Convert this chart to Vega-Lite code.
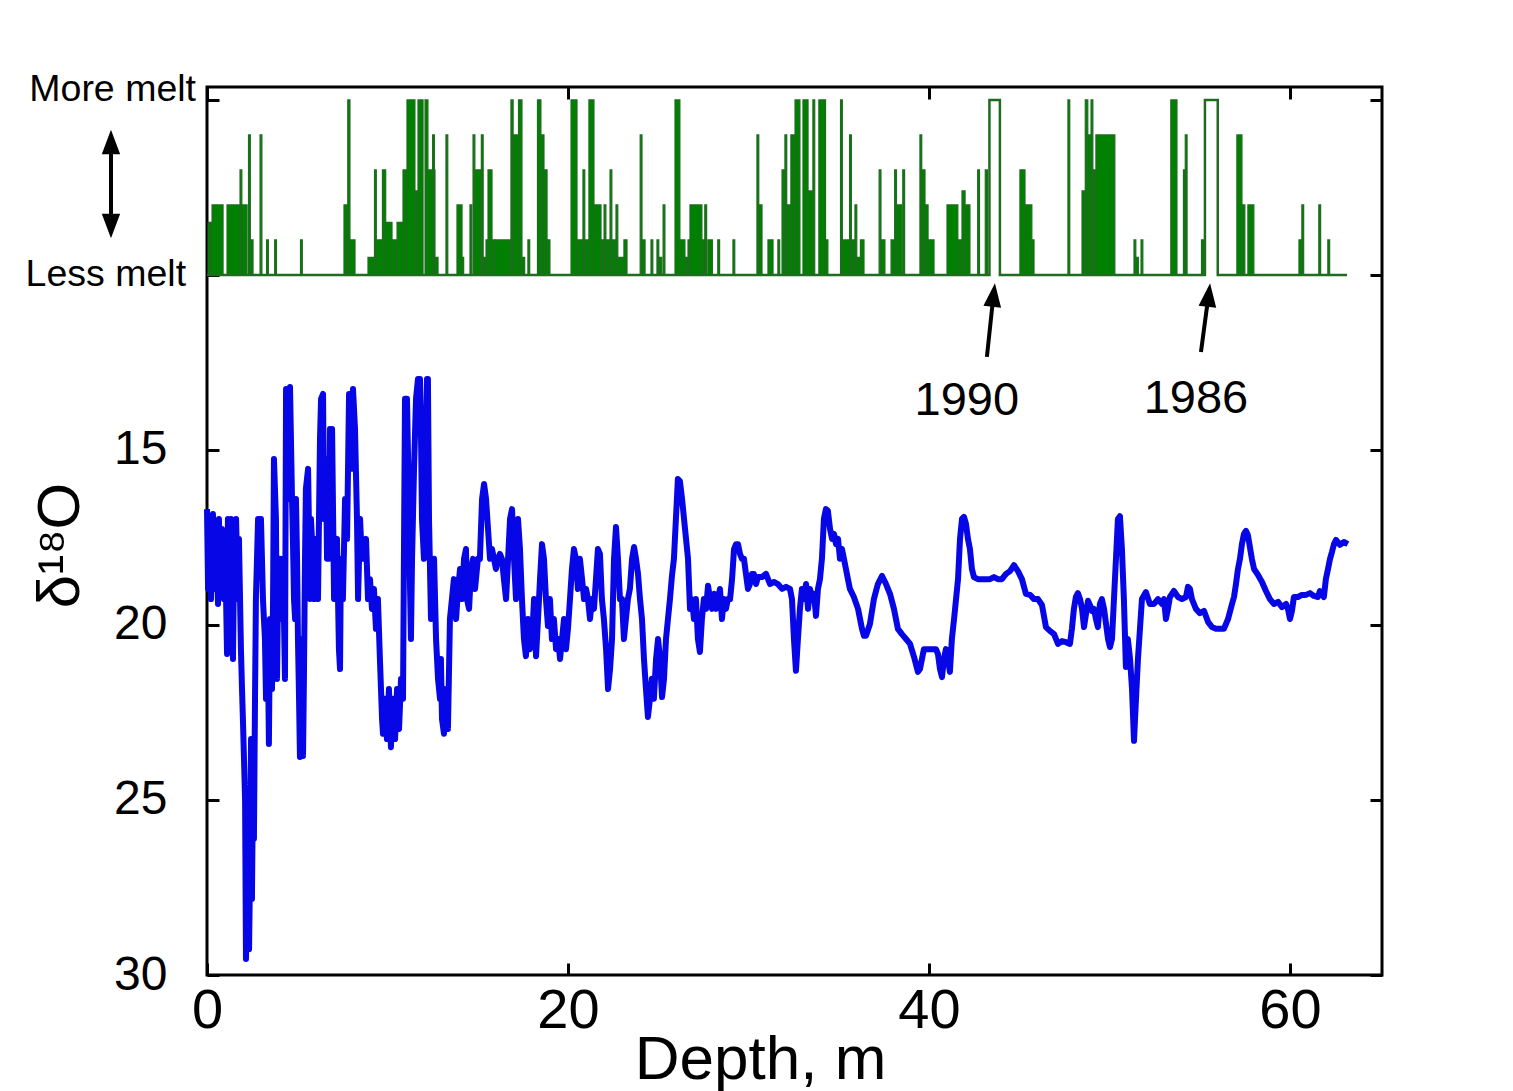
{
  "$schema": "https://vega.github.io/schema/vega-lite/v6.json",
  "width": 1175,
  "height": 888,
  "autosize": {"type": "none"},
  "padding": {"left": 207, "top": 87, "right": 131, "bottom": 116},
  "background": "white",
  "config": {"view": {"stroke": "black", "strokeWidth": 3}, "font": "Liberation Sans"},
  "resolve": {"axis": {"x": "independent", "y": "independent"}},
  "datasets": {
    "melt": [
      {"d0":0.06,"d1":0.28,"m":8.5},{"d0":0.28,"d1":0.89,"m":8},{"d0":1.11,"d1":2.22,"m":8},{"d0":1.83,"d1":1.93,"m":7},
      {"d0":2.30,"d1":2.40,"m":6},{"d0":2.38,"d1":2.55,"m":9},{"d0":2.94,"d1":3.04,"m":6},{"d0":3.30,"d1":3.40,"m":9},
      {"d0":3.75,"d1":3.85,"m":9},{"d0":5.18,"d1":5.28,"m":9},{"d0":7.59,"d1":7.81,"m":8},{"d0":7.80,"d1":7.92,"m":5},
      {"d0":7.92,"d1":8.20,"m":9},{"d0":8.92,"d1":9.31,"m":9.5},{"d0":9.28,"d1":9.38,"m":7},{"d0":9.36,"d1":9.75,"m":9},
      {"d0":9.72,"d1":9.90,"m":7},{"d0":9.90,"d1":10.25,"m":8.5},{"d0":10.25,"d1":10.53,"m":9},{"d0":10.53,"d1":10.86,"m":8.5},
      {"d0":10.86,"d1":11.08,"m":7},{"d0":11.08,"d1":11.52,"m":5},{"d0":11.52,"d1":11.69,"m":7.6},{"d0":11.69,"d1":11.97,"m":5},
      {"d0":12.08,"d1":12.24,"m":5},{"d0":12.24,"d1":12.63,"m":7},{"d0":12.50,"d1":12.60,"m":6},{"d0":12.63,"d1":12.80,"m":9.5},
      {"d0":13.24,"d1":13.34,"m":6},{"d0":13.85,"d1":14.13,"m":8},{"d0":14.13,"d1":14.22,"m":9.5},{"d0":14.57,"d1":14.67,"m":8},
      {"d0":14.74,"d1":14.84,"m":6},{"d0":14.84,"d1":15.18,"m":7},{"d0":15.20,"d1":15.30,"m":6},{"d0":15.30,"d1":15.46,"m":9.5},
      {"d0":15.46,"d1":15.96,"m":9},{"d0":15.57,"d1":15.79,"m":7},{"d0":15.96,"d1":16.84,"m":9},{"d0":16.84,"d1":16.96,"m":5},
      {"d0":16.96,"d1":17.26,"m":6},{"d0":17.26,"d1":17.45,"m":5},{"d0":17.45,"d1":17.60,"m":9.5},{"d0":17.78,"d1":17.88,"m":9},
      {"d0":18.31,"d1":18.50,"m":5},{"d0":18.50,"d1":18.67,"m":6},{"d0":18.67,"d1":18.84,"m":7},{"d0":18.84,"d1":19.00,"m":9},
      {"d0":20.17,"d1":20.50,"m":5},{"d0":20.50,"d1":20.83,"m":9},{"d0":20.83,"d1":20.93,"m":7},{"d0":20.93,"d1":21.16,"m":9},
      {"d0":21.16,"d1":21.44,"m":5},{"d0":21.44,"d1":21.83,"m":8},{"d0":21.83,"d1":22.00,"m":9},{"d0":22.00,"d1":22.10,"m":8},
      {"d0":22.10,"d1":22.33,"m":9},{"d0":22.33,"d1":22.43,"m":7},{"d0":22.43,"d1":22.66,"m":9},{"d0":22.66,"d1":22.76,"m":8},
      {"d0":22.76,"d1":23.10,"m":9.5},{"d0":23.10,"d1":23.27,"m":9},{"d0":24.00,"d1":24.10,"m":6},{"d0":24.10,"d1":24.27,"m":9},
      {"d0":24.60,"d1":24.70,"m":9},{"d0":24.93,"d1":25.03,"m":9},{"d0":25.03,"d1":25.20,"m":9.5},{"d0":25.27,"d1":25.37,"m":8},
      {"d0":25.93,"d1":26.20,"m":5},{"d0":26.20,"d1":26.48,"m":9},{"d0":26.48,"d1":26.65,"m":9.5},{"d0":26.65,"d1":26.76,"m":9},
      {"d0":26.76,"d1":27.42,"m":8},{"d0":27.42,"d1":27.58,"m":9},{"d0":27.58,"d1":27.68,"m":8},{"d0":27.75,"d1":28.00,"m":9},
      {"d0":28.30,"d1":28.40,"m":9},{"d0":29.14,"d1":29.24,"m":9},{"d0":30.47,"d1":30.57,"m":6},{"d0":30.57,"d1":30.75,"m":8},
      {"d0":31.08,"d1":31.36,"m":9},{"d0":31.63,"d1":31.73,"m":9},{"d0":31.86,"d1":32.02,"m":7},{"d0":32.02,"d1":32.12,"m":6},
      {"d0":32.12,"d1":32.35,"m":8},{"d0":32.35,"d1":32.58,"m":6},{"d0":32.58,"d1":32.85,"m":5},{"d0":33.02,"d1":33.30,"m":5},
      {"d0":33.30,"d1":33.57,"m":7.6},{"d0":33.57,"d1":33.67,"m":5},{"d0":33.90,"d1":34.27,"m":5},{"d0":34.27,"d1":34.40,"m":9},
      {"d0":35.10,"d1":35.20,"m":5},{"d0":35.20,"d1":35.60,"m":9},{"d0":35.60,"d1":35.70,"m":6},{"d0":35.70,"d1":35.90,"m":9},
      {"d0":35.90,"d1":36.00,"m":8},{"d0":36.00,"d1":36.20,"m":9.5},{"d0":36.20,"d1":36.40,"m":9},{"d0":37.24,"d1":37.34,"m":7},
      {"d0":37.34,"d1":37.56,"m":9},{"d0":37.90,"d1":38.10,"m":9},{"d0":38.10,"d1":38.20,"m":7},{"d0":38.20,"d1":38.50,"m":8},
      {"d0":38.55,"d1":38.65,"m":7},{"d0":39.50,"d1":39.60,"m":6},{"d0":39.60,"d1":39.78,"m":7},{"d0":39.78,"d1":39.95,"m":8},
      {"d0":39.95,"d1":40.28,"m":9},{"d0":41.00,"d1":41.60,"m":8},{"d0":41.60,"d1":41.83,"m":9},{"d0":41.83,"d1":42.00,"m":7.6},
      {"d0":42.00,"d1":42.27,"m":8},{"d0":42.70,"d1":42.80,"m":7},{"d0":43.12,"d1":43.24,"m":7},{"d0":45.04,"d1":45.32,"m":7},
      {"d0":45.32,"d1":45.70,"m":8},{"d0":45.70,"d1":45.82,"m":9},{"d0":47.70,"d1":47.80,"m":5},{"d0":48.48,"d1":48.66,"m":7.6},
      {"d0":48.66,"d1":48.80,"m":5},{"d0":48.80,"d1":48.98,"m":6},{"d0":48.98,"d1":49.08,"m":5},{"d0":49.08,"d1":49.25,"m":7},
      {"d0":49.25,"d1":50.30,"m":6},{"d0":51.36,"d1":51.46,"m":9},{"d0":51.46,"d1":51.60,"m":9.5},{"d0":51.75,"d1":51.85,"m":9},
      {"d0":53.40,"d1":53.74,"m":5},{"d0":54.10,"d1":54.20,"m":7},{"d0":54.20,"d1":54.30,"m":6},{"d0":55.10,"d1":55.25,"m":9},
      {"d0":57.06,"d1":57.34,"m":6},{"d0":57.34,"d1":57.50,"m":8},{"d0":57.67,"d1":58.00,"m":8},{"d0":60.50,"d1":60.66,"m":9},
      {"d0":60.66,"d1":60.76,"m":8},{"d0":61.60,"d1":61.70,"m":8},{"d0":62.10,"d1":62.20,"m":9}
    ],
    "outline": [
      {"i":0,"d":0,"m":10},{"i":1,"d":43.35,"m":10},{"i":2,"d":43.35,"m":5},{"i":3,"d":43.93,"m":5},{"i":4,"d":43.93,"m":10},
      {"i":5,"d":55.29,"m":10},{"i":6,"d":55.29,"m":5},{"i":7,"d":56.0,"m":5},{"i":8,"d":56.0,"m":10},{"i":9,"d":63.16,"m":10}
    ],
    "o18": [
      {"d":0,"v":16.69},{"d":0.06,"v":18.97},{"d":0.11,"v":16.97},{"d":0.22,"v":19.26},{"d":0.33,"v":16.83},{"d":0.44,"v":18.97},
      {"d":0.50,"v":17.26},{"d":0.61,"v":19.4},{"d":0.66,"v":16.97},{"d":0.78,"v":18.97},{"d":0.83,"v":17.26},{"d":0.94,"v":19.26},
      {"d":1.00,"v":17.54},{"d":1.11,"v":20.83},{"d":1.16,"v":16.97},{"d":1.27,"v":19.26},{"d":1.33,"v":16.97},{"d":1.44,"v":20.97},
      {"d":1.50,"v":18.11},{"d":1.61,"v":16.97},{"d":1.72,"v":19.26},{"d":1.77,"v":17.54},{"d":1.88,"v":20.69},{"d":1.94,"v":21.83},
      {"d":1.99,"v":22.69},{"d":2.05,"v":23.83},{"d":2.11,"v":25.0},{"d":2.16,"v":29.54},{"d":2.27,"v":26.69},{"d":2.33,"v":29.26},
      {"d":2.38,"v":27.26},{"d":2.44,"v":23.26},{"d":2.49,"v":27.83},{"d":2.55,"v":24.4},{"d":2.60,"v":26.11},{"d":2.66,"v":22.11},
      {"d":2.71,"v":19.26},{"d":2.83,"v":16.97},{"d":2.94,"v":18.11},{"d":2.99,"v":16.97},{"d":3.10,"v":19.26},{"d":3.21,"v":20.4},
      {"d":3.27,"v":22.11},{"d":3.38,"v":20.97},{"d":3.43,"v":23.4},{"d":3.49,"v":19.83},{"d":3.60,"v":21.83},{"d":3.66,"v":19.26},
      {"d":3.71,"v":15.26},{"d":3.82,"v":16.97},{"d":3.88,"v":21.54},{"d":3.93,"v":19.26},{"d":4.04,"v":18.11},{"d":4.10,"v":19.83},
      {"d":4.21,"v":18.11},{"d":4.32,"v":21.54},{"d":4.38,"v":13.26},{"d":4.49,"v":14.11},{"d":4.54,"v":16.4},{"d":4.60,"v":13.2},
      {"d":4.71,"v":16.4},{"d":4.76,"v":17.54},{"d":4.82,"v":19.26},{"d":4.88,"v":19.83},{"d":4.93,"v":16.4},{"d":4.99,"v":18.11},
      {"d":5.04,"v":20.4},{"d":5.10,"v":22.11},{"d":5.15,"v":23.77},{"d":5.21,"v":22.11},{"d":5.26,"v":20.4},{"d":5.32,"v":23.74},
      {"d":5.37,"v":21.54},{"d":5.43,"v":18.11},{"d":5.48,"v":16.11},{"d":5.60,"v":15.54},{"d":5.71,"v":19.26},{"d":5.76,"v":16.97},
      {"d":5.87,"v":18.11},{"d":5.93,"v":19.26},{"d":6.04,"v":17.54},{"d":6.15,"v":19.26},{"d":6.26,"v":14.69},{"d":6.32,"v":13.54},
      {"d":6.43,"v":13.4},{"d":6.48,"v":16.97},{"d":6.59,"v":15.26},{"d":6.65,"v":18.11},{"d":6.76,"v":18.11},{"d":6.81,"v":14.4},
      {"d":6.93,"v":14.4},{"d":7.04,"v":19.26},{"d":7.09,"v":18.11},{"d":7.20,"v":17.54},{"d":7.31,"v":20.69},{"d":7.37,"v":21.26},
      {"d":7.42,"v":18.11},{"d":7.53,"v":19.26},{"d":7.65,"v":16.4},{"d":7.76,"v":17.54},{"d":7.87,"v":13.4},{"d":7.92,"v":13.4},
      {"d":8.03,"v":15.54},{"d":8.09,"v":13.26},{"d":8.20,"v":14.4},{"d":8.31,"v":16.97},{"d":8.37,"v":19.26},{"d":8.48,"v":16.97},
      {"d":8.53,"v":17.54},{"d":8.59,"v":18.11},{"d":8.70,"v":18.11},{"d":8.81,"v":17.54},{"d":8.92,"v":19.26},{"d":9.03,"v":18.69},
      {"d":9.14,"v":19.54},{"d":9.25,"v":18.97},{"d":9.36,"v":20.11},{"d":9.47,"v":19.26},{"d":9.58,"v":20.97},{"d":9.70,"v":22.69},
      {"d":9.75,"v":23.11},{"d":9.86,"v":22.11},{"d":9.97,"v":23.26},{"d":10.08,"v":21.83},{"d":10.19,"v":23.49},{"d":10.30,"v":22.11},
      {"d":10.42,"v":23.26},{"d":10.53,"v":21.83},{"d":10.64,"v":22.97},{"d":10.75,"v":21.54},{"d":10.86,"v":22.11},{"d":10.91,"v":18.11},
      {"d":10.97,"v":13.54},{"d":11.08,"v":13.54},{"d":11.14,"v":15.26},{"d":11.19,"v":16.97},{"d":11.25,"v":18.97},{"d":11.30,"v":20.4},
      {"d":11.36,"v":18.11},{"d":11.47,"v":15.54},{"d":11.58,"v":13.54},{"d":11.69,"v":12.97},{"d":11.80,"v":12.97},{"d":11.86,"v":14.69},
      {"d":11.91,"v":16.97},{"d":12.02,"v":18.11},{"d":12.08,"v":15.83},{"d":12.19,"v":12.97},{"d":12.24,"v":12.97},{"d":12.30,"v":16.97},
      {"d":12.41,"v":19.83},{"d":12.52,"v":19.26},{"d":12.58,"v":18.11},{"d":12.69,"v":20.4},{"d":12.80,"v":21.54},{"d":12.91,"v":22.11},
      {"d":12.96,"v":20.97},{"d":13.02,"v":22.69},{"d":13.13,"v":23.11},{"d":13.24,"v":21.83},{"d":13.35,"v":22.97},{"d":13.46,"v":19.83},
      {"d":13.57,"v":19.26},{"d":13.68,"v":18.69},{"d":13.80,"v":19.83},{"d":13.91,"v":18.97},{"d":14.02,"v":18.4},{"d":14.13,"v":19.26},
      {"d":14.24,"v":18.11},{"d":14.35,"v":17.83},{"d":14.40,"v":19.26},{"d":14.52,"v":19.54},{"d":14.63,"v":18.4},{"d":14.74,"v":18.11},
      {"d":14.85,"v":18.97},{"d":15.01,"v":18.11},{"d":15.12,"v":18.11},{"d":15.24,"v":16.4},{"d":15.35,"v":15.97},{"d":15.46,"v":16.4},
      {"d":15.57,"v":17.26},{"d":15.68,"v":18.11},{"d":15.79,"v":17.83},{"d":15.90,"v":18.11},{"d":16.01,"v":18.4},{"d":16.12,"v":18.11},
      {"d":16.23,"v":17.97},{"d":16.34,"v":18.11},{"d":16.45,"v":18.69},{"d":16.57,"v":19.26},{"d":16.68,"v":18.11},{"d":16.79,"v":16.97},
      {"d":16.90,"v":16.69},{"d":17.01,"v":18.11},{"d":17.12,"v":19.26},{"d":17.23,"v":16.97},{"d":17.34,"v":17.83},{"d":17.45,"v":19.26},
      {"d":17.56,"v":20.4},{"d":17.67,"v":20.89},{"d":17.78,"v":19.83},{"d":17.89,"v":20.69},{"d":18.01,"v":20.4},{"d":18.12,"v":19.26},
      {"d":18.23,"v":20.89},{"d":18.34,"v":19.83},{"d":18.45,"v":18.69},{"d":18.56,"v":17.69},{"d":18.67,"v":18.11},{"d":18.78,"v":19.26},
      {"d":18.89,"v":20.03},{"d":19.00,"v":19.26},{"d":19.11,"v":20.4},{"d":19.22,"v":19.83},{"d":19.34,"v":20.69},{"d":19.45,"v":20.4},
      {"d":19.56,"v":20.97},{"d":19.67,"v":20.4},{"d":19.78,"v":19.83},{"d":19.89,"v":20.69},{"d":20.00,"v":20.11},{"d":20.11,"v":19.26},
      {"d":20.22,"v":18.4},{"d":20.33,"v":17.83},{"d":20.44,"v":18.11},{"d":20.55,"v":18.97},{"d":20.66,"v":18.11},{"d":20.78,"v":18.69},
      {"d":20.89,"v":19.26},{"d":21.00,"v":18.97},{"d":21.11,"v":19.26},{"d":21.22,"v":19.83},{"d":21.33,"v":19.26},{"d":21.44,"v":19.54},
      {"d":21.55,"v":18.69},{"d":21.66,"v":17.83},{"d":21.77,"v":17.97},{"d":21.88,"v":19.26},{"d":21.99,"v":19.83},{"d":22.11,"v":20.69},
      {"d":22.22,"v":21.83},{"d":22.33,"v":21.26},{"d":22.44,"v":20.4},{"d":22.55,"v":18.11},{"d":22.66,"v":17.2},{"d":22.77,"v":18.11},
      {"d":22.88,"v":19.26},{"d":22.99,"v":19.26},{"d":23.10,"v":20.4},{"d":23.21,"v":19.83},{"d":23.32,"v":19.26},{"d":23.43,"v":18.97},
      {"d":23.55,"v":18.11},{"d":23.66,"v":17.77},{"d":23.77,"v":18.11},{"d":23.88,"v":18.54},{"d":23.99,"v":19.26},{"d":24.10,"v":19.83},
      {"d":24.21,"v":20.97},{"d":24.32,"v":21.83},{"d":24.43,"v":22.63},{"d":24.54,"v":22.11},{"d":24.65,"v":21.54},{"d":24.76,"v":22.11},
      {"d":24.88,"v":20.97},{"d":24.99,"v":20.4},{"d":25.10,"v":20.97},{"d":25.21,"v":22.06},{"d":25.32,"v":21.54},{"d":25.43,"v":20.4},
      {"d":25.54,"v":19.83},{"d":25.65,"v":19.26},{"d":25.76,"v":18.6},{"d":25.87,"v":18.11},{"d":25.98,"v":16.97},{"d":26.09,"v":15.83},
      {"d":26.20,"v":15.89},{"d":26.32,"v":16.4},{"d":26.43,"v":16.97},{"d":26.54,"v":17.54},{"d":26.65,"v":18.11},{"d":26.76,"v":19.54},
      {"d":26.87,"v":19.26},{"d":26.98,"v":19.83},{"d":27.09,"v":19.26},{"d":27.20,"v":20.4},{"d":27.31,"v":20.77},{"d":27.42,"v":19.83},
      {"d":27.53,"v":19.26},{"d":27.65,"v":19.54},{"d":27.76,"v":18.88},{"d":27.87,"v":19.26},{"d":27.98,"v":19.54},{"d":28.09,"v":19.11},
      {"d":28.20,"v":19.54},{"d":28.31,"v":19.26},{"d":28.42,"v":18.97},{"d":28.53,"v":19.83},{"d":28.64,"v":19.26},{"d":28.75,"v":19.54},
      {"d":28.86,"v":19.26},{"d":28.98,"v":19.26},{"d":29.09,"v":18.69},{"d":29.20,"v":17.83},{"d":29.31,"v":17.69},{"d":29.42,"v":17.69},
      {"d":29.53,"v":17.97},{"d":29.64,"v":18.11},{"d":29.75,"v":18.11},{"d":29.86,"v":18.54},{"d":29.97,"v":18.97},{"d":30.08,"v":18.83},
      {"d":30.19,"v":18.54},{"d":30.30,"v":18.54},{"d":30.42,"v":18.83},{"d":30.53,"v":18.63},{"d":30.75,"v":18.63},{"d":30.97,"v":18.54},
      {"d":31.19,"v":18.83},{"d":31.41,"v":18.77},{"d":31.63,"v":18.83},{"d":31.86,"v":18.97},{"d":32.08,"v":18.91},{"d":32.30,"v":18.97},
      {"d":32.41,"v":19.26},{"d":32.52,"v":20.4},{"d":32.63,"v":21.31},{"d":32.74,"v":20.4},{"d":32.85,"v":19.54},{"d":32.96,"v":18.97},
      {"d":33.07,"v":19.26},{"d":33.19,"v":18.83},{"d":33.30,"v":19.54},{"d":33.41,"v":18.97},{"d":33.52,"v":19.26},{"d":33.63,"v":19.11},
      {"d":33.74,"v":19.74},{"d":33.85,"v":18.97},{"d":33.96,"v":18.69},{"d":34.07,"v":18.11},{"d":34.18,"v":16.97},{"d":34.29,"v":16.69},
      {"d":34.40,"v":16.74},{"d":34.52,"v":17.26},{"d":34.63,"v":17.54},{"d":34.74,"v":17.4},{"d":34.85,"v":17.69},{"d":34.96,"v":17.54},
      {"d":35.07,"v":18.11},{"d":35.18,"v":17.83},{"d":35.29,"v":18.11},{"d":35.40,"v":18.4},{"d":35.51,"v":18.69},{"d":35.62,"v":18.97},
      {"d":35.84,"v":19.2},{"d":36.07,"v":19.54},{"d":36.29,"v":20.11},{"d":36.40,"v":20.31},{"d":36.51,"v":20.31},{"d":36.73,"v":19.97},
      {"d":36.95,"v":19.26},{"d":37.17,"v":18.83},{"d":37.40,"v":18.6},{"d":37.62,"v":18.83},{"d":37.84,"v":19.11},{"d":38.06,"v":19.54},
      {"d":38.28,"v":20.11},{"d":38.50,"v":20.26},{"d":38.73,"v":20.4},{"d":38.95,"v":20.54},{"d":39.17,"v":20.91},{"d":39.39,"v":21.34},
      {"d":39.50,"v":21.26},{"d":39.72,"v":20.69},{"d":39.94,"v":20.69},{"d":40.17,"v":20.69},{"d":40.39,"v":20.69},{"d":40.50,"v":20.83},
      {"d":40.61,"v":21.26},{"d":40.72,"v":21.49},{"d":40.83,"v":20.97},{"d":40.94,"v":20.69},{"d":41.05,"v":20.97},{"d":41.16,"v":21.34},
      {"d":41.27,"v":20.4},{"d":41.39,"v":19.83},{"d":41.50,"v":19.26},{"d":41.61,"v":18.69},{"d":41.72,"v":17.54},{"d":41.83,"v":16.97},
      {"d":41.94,"v":16.91},{"d":42.05,"v":17.11},{"d":42.16,"v":17.54},{"d":42.27,"v":17.83},{"d":42.38,"v":18.4},{"d":42.49,"v":18.63},
      {"d":42.71,"v":18.69},{"d":42.94,"v":18.69},{"d":43.16,"v":18.69},{"d":43.38,"v":18.69},{"d":43.60,"v":18.63},{"d":43.82,"v":18.69},
      {"d":44.04,"v":18.69},{"d":44.27,"v":18.54},{"d":44.49,"v":18.46},{"d":44.71,"v":18.29},{"d":44.93,"v":18.46},{"d":45.15,"v":18.69},
      {"d":45.37,"v":19.11},{"d":45.60,"v":19.14},{"d":45.82,"v":19.26},{"d":46.04,"v":19.26},{"d":46.26,"v":19.43},{"d":46.48,"v":20.06},
      {"d":46.70,"v":20.17},{"d":46.93,"v":20.26},{"d":47.15,"v":20.54},{"d":47.37,"v":20.46},{"d":47.59,"v":20.49},{"d":47.81,"v":20.54},
      {"d":47.92,"v":20.11},{"d":48.03,"v":19.54},{"d":48.14,"v":19.2},{"d":48.25,"v":19.09},{"d":48.37,"v":19.26},{"d":48.48,"v":19.54},
      {"d":48.59,"v":20.06},{"d":48.70,"v":19.69},{"d":48.81,"v":19.31},{"d":48.92,"v":19.43},{"d":49.03,"v":19.6},{"d":49.14,"v":19.54},
      {"d":49.25,"v":19.83},{"d":49.36,"v":20.06},{"d":49.47,"v":19.4},{"d":49.58,"v":19.26},{"d":49.70,"v":19.54},{"d":49.81,"v":19.97},
      {"d":49.92,"v":20.4},{"d":50.03,"v":20.63},{"d":50.14,"v":20.4},{"d":50.25,"v":19.26},{"d":50.36,"v":18.11},{"d":50.47,"v":16.97},
      {"d":50.58,"v":16.89},{"d":50.69,"v":17.83},{"d":50.80,"v":19.26},{"d":50.91,"v":21.2},{"d":51.02,"v":20.4},{"d":51.14,"v":20.97},
      {"d":51.25,"v":21.83},{"d":51.36,"v":23.31},{"d":51.47,"v":22.11},{"d":51.58,"v":20.97},{"d":51.69,"v":20.11},{"d":51.80,"v":19.26},
      {"d":52.02,"v":19.06},{"d":52.24,"v":19.4},{"d":52.47,"v":19.4},{"d":52.69,"v":19.26},{"d":52.91,"v":19.4},{"d":53.02,"v":19.26},
      {"d":53.13,"v":19.83},{"d":53.24,"v":19.54},{"d":53.35,"v":19.2},{"d":53.57,"v":19.03},{"d":53.80,"v":19.2},{"d":54.02,"v":19.26},
      {"d":54.24,"v":19.2},{"d":54.35,"v":18.91},{"d":54.46,"v":18.97},{"d":54.57,"v":19.26},{"d":54.79,"v":19.54},{"d":55.01,"v":19.66},
      {"d":55.24,"v":19.6},{"d":55.46,"v":19.91},{"d":55.68,"v":20.06},{"d":55.90,"v":20.11},{"d":56.12,"v":20.11},{"d":56.34,"v":20.11},
      {"d":56.57,"v":19.83},{"d":56.79,"v":19.4},{"d":56.90,"v":19.2},{"d":57.01,"v":18.83},{"d":57.12,"v":18.4},{"d":57.23,"v":18.11},
      {"d":57.34,"v":17.69},{"d":57.45,"v":17.4},{"d":57.56,"v":17.31},{"d":57.67,"v":17.43},{"d":57.78,"v":17.77},{"d":57.89,"v":18.11},
      {"d":58.01,"v":18.4},{"d":58.23,"v":18.57},{"d":58.45,"v":18.77},{"d":58.67,"v":19.03},{"d":58.89,"v":19.26},{"d":59.11,"v":19.4},
      {"d":59.34,"v":19.34},{"d":59.56,"v":19.49},{"d":59.78,"v":19.4},{"d":59.89,"v":19.54},{"d":60.00,"v":19.83},{"d":60.11,"v":19.6},
      {"d":60.22,"v":19.2},{"d":60.44,"v":19.2},{"d":60.66,"v":19.14},{"d":60.89,"v":19.14},{"d":61.11,"v":19.09},{"d":61.33,"v":19.17},
      {"d":61.55,"v":19.2},{"d":61.66,"v":19.03},{"d":61.88,"v":19.2},{"d":61.99,"v":18.69},{"d":62.11,"v":18.4},{"d":62.22,"v":18.11},
      {"d":62.33,"v":17.91},{"d":62.44,"v":17.69},{"d":62.55,"v":17.57},{"d":62.77,"v":17.71},{"d":62.99,"v":17.63},{"d":63.21,"v":17.69}
    ],
    "arrows": [
      {"d":-5.32,"v":6.11,"d2":-5.32,"v2":8.69},
      {"d":43.21,"v":12.34,"d2":43.55,"v2":10.69},
      {"d":55.07,"v":12.2,"d2":55.46,"v2":10.69}
    ],
    "heads": [
      {"d":-5.32,"v":6.2,"kind":"up"},
      {"d":-5.32,"v":8.6,"kind":"down"},
      {"d":43.58,"v":10.57,"kind":"year"},
      {"d":55.50,"v":10.57,"kind":"year"}
    ],
    "notes": [
      {"d":-0.61,"v":4.72,"text":"More melt","kind":"melt"},
      {"d":-1.16,"v":9.99,"text":"Less melt","kind":"melt"},
      {"d":42.1,"v":13.6,"text":"1990","kind":"year"},
      {"d":54.79,"v":13.55,"text":"1986","kind":"year"}
    ]
  },
  "layer": [
    {
      "data": {"name": "melt"},
      "mark": {"type": "rect", "fill": "#008000", "stroke": "#1f6b1f", "strokeWidth": 1.2},
      "encoding": {
        "x": {"field": "d0", "type": "quantitative", "scale": {"domain": [0, 65.1], "nice": false, "zero": false},
          "axis": {"orient": "bottom", "values": [0, 20, 40, 60], "format": "d", "title": "Depth, m", "domain": false, "grid": false,
            "tickSize": -12, "tickWidth": 3, "tickColor": "black", "labelFontSize": 56, "labelColor": "black", "labelPadding": 20,
            "labelFlush": false, "labelOverlap": false, "labelFont": "Liberation Sans", "titleFont": "Liberation Sans", "titleFontSize": 62,
            "titleFontWeight": "normal", "titleColor": "black", "titleX": 553, "titleY": 103, "titleBaseline": "alphabetic", "titleAlign": "center"}},
        "x2": {"field": "d1"},
        "y": {"field": "m", "type": "quantitative", "scale": {"domain": [4.63, 30], "reverse": true, "nice": false, "zero": false},
          "axis": {"orient": "left", "values": [5, 10, 15, 20, 25, 30], "labelExpr": "datum.value >= 15 ? datum.label : ''",
            "title": "δ¹⁸O", "domain": false, "grid": false, "tickSize": -12, "tickWidth": 3, "tickColor": "black",
            "labelFontSize": 48, "labelColor": "black", "labelPadding": 52, "labelFlush": false, "labelOverlap": false, "labelFont": "Liberation Sans",
            "titleFont": "Liberation Sans, DejaVu Sans", "titleFontSize": 60, "titleFontWeight": "normal", "titleColor": "black",
            "titleX": -147, "titleY": 458, "titleAlign": "center", "titleBaseline": "middle", "titleAngle": -90}},
        "y2": {"datum": 10}
      }
    },
    {
      "data": {"name": "outline"},
      "mark": {"type": "line", "color": "#1f6b1f", "strokeWidth": 2.5},
      "encoding": {
        "x": {"field": "d", "type": "quantitative", "scale": {"domain": [0, 65.1], "nice": false, "zero": false},
          "axis": {"orient": "top", "values": [0, 20, 40, 60], "labels": false, "title": null, "domain": false, "grid": false,
            "tickSize": -12, "tickWidth": 3, "tickColor": "black"}},
        "y": {"field": "m", "type": "quantitative", "scale": {"domain": [4.63, 30], "reverse": true, "nice": false, "zero": false},
          "axis": {"orient": "right", "values": [5, 10, 15, 20, 25, 30], "labels": false, "title": null, "domain": false, "grid": false,
            "tickSize": -12, "tickWidth": 3, "tickColor": "black"}},
        "order": {"field": "i"}
      }
    },
    {
      "data": {"name": "o18"},
      "mark": {"type": "line", "color": "#0606e6", "strokeWidth": 6, "strokeJoin": "round"},
      "encoding": {
        "x": {"field": "d", "type": "quantitative", "scale": {"domain": [0, 65.1], "nice": false, "zero": false}, "axis": null},
        "y": {"field": "v", "type": "quantitative", "scale": {"domain": [4.63, 30], "reverse": true, "nice": false, "zero": false}, "axis": null}
      }
    },
    {
      "data": {"name": "arrows"},
      "mark": {"type": "rule", "color": "black", "strokeWidth": 4},
      "encoding": {
        "x": {"field": "d", "type": "quantitative", "scale": {"domain": [0, 65.1], "nice": false, "zero": false}, "axis": null},
        "y": {"field": "v", "type": "quantitative", "scale": {"domain": [4.63, 30], "reverse": true, "nice": false, "zero": false}, "axis": null},
        "x2": {"field": "d2"},
        "y2": {"field": "v2"}
      }
    },
    {
      "data": {"name": "heads"},
      "transform": [{"filter": "datum.kind === 'up'"}],
      "mark": {"type": "point", "filled": true, "color": "black", "opacity": 1, "size": 600, "shape": "M0,-1L-0.75,1L0.75,1Z"},
      "encoding": {
        "x": {"field": "d", "type": "quantitative", "scale": {"domain": [0, 65.1], "nice": false, "zero": false}, "axis": null},
        "y": {"field": "v", "type": "quantitative", "scale": {"domain": [4.63, 30], "reverse": true, "nice": false, "zero": false}, "axis": null}
      }
    },
    {
      "data": {"name": "heads"},
      "transform": [{"filter": "datum.kind === 'down'"}],
      "mark": {"type": "point", "filled": true, "color": "black", "opacity": 1, "size": 600, "shape": "M0,1L-0.75,-1L0.75,-1Z"},
      "encoding": {
        "x": {"field": "d", "type": "quantitative", "scale": {"domain": [0, 65.1], "nice": false, "zero": false}, "axis": null},
        "y": {"field": "v", "type": "quantitative", "scale": {"domain": [4.63, 30], "reverse": true, "nice": false, "zero": false}, "axis": null}
      }
    },
    {
      "data": {"name": "heads"},
      "transform": [{"filter": "datum.kind === 'year'"}],
      "mark": {"type": "point", "filled": true, "color": "black", "opacity": 1, "size": 560, "angle": 6.5, "shape": "M0,-1L-0.75,1L0.75,1Z"},
      "encoding": {
        "x": {"field": "d", "type": "quantitative", "scale": {"domain": [0, 65.1], "nice": false, "zero": false}, "axis": null},
        "y": {"field": "v", "type": "quantitative", "scale": {"domain": [4.63, 30], "reverse": true, "nice": false, "zero": false}, "axis": null}
      }
    },
    {
      "data": {"name": "notes"},
      "transform": [{"filter": "datum.kind === 'melt'"}],
      "mark": {"type": "text", "align": "right", "baseline": "middle", "fontSize": 37.5, "font": "Liberation Sans", "color": "black"},
      "encoding": {
        "x": {"field": "d", "type": "quantitative", "scale": {"domain": [0, 65.1], "nice": false, "zero": false}, "axis": null},
        "y": {"field": "v", "type": "quantitative", "scale": {"domain": [4.63, 30], "reverse": true, "nice": false, "zero": false}, "axis": null},
        "text": {"field": "text"}
      }
    },
    {
      "data": {"name": "notes"},
      "transform": [{"filter": "datum.kind === 'year'"}],
      "mark": {"type": "text", "align": "center", "baseline": "middle", "fontSize": 47, "font": "Liberation Sans", "color": "black"},
      "encoding": {
        "x": {"field": "d", "type": "quantitative", "scale": {"domain": [0, 65.1], "nice": false, "zero": false}, "axis": null},
        "y": {"field": "v", "type": "quantitative", "scale": {"domain": [4.63, 30], "reverse": true, "nice": false, "zero": false}, "axis": null},
        "text": {"field": "text"}
      }
    }
  ]
}
